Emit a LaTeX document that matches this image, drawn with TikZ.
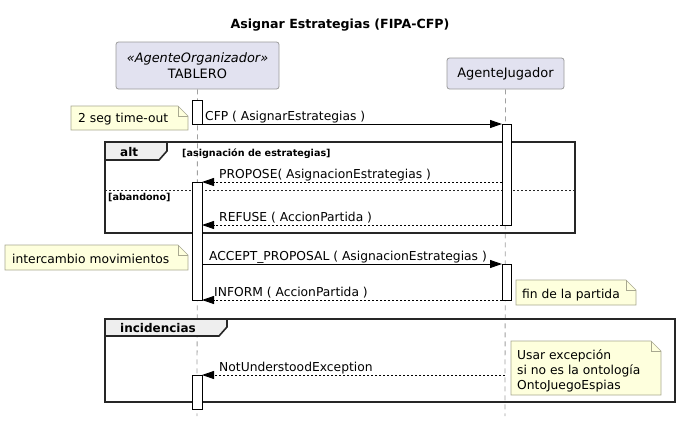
\documentclass[tikz,border=0pt]{standalone}
\usepackage{fontspec}
\setmainfont{DejaVu Sans}
\usetikzlibrary{arrows.meta}
\definecolor{partfill}{HTML}{E2E2F0}
\definecolor{partline}{HTML}{9A9A9A}
\definecolor{notefill}{HTML}{FEFFDD}
\definecolor{noteline}{HTML}{A8A890}
\definecolor{tabfill}{HTML}{EEEEEE}
\definecolor{lifegray}{HTML}{A0A0A0}

\begin{document}
\begin{tikzpicture}[x=1pt, y=-1pt,
    part/.style={draw=partline, fill=partfill, rounded corners=2.5pt, line width=0.8pt, inner sep=0pt},
    lifeline/.style={draw=lifegray, line width=0.8pt, dash pattern=on 5pt off 4pt},
    act/.style={draw, fill=white, line width=0.9pt},
    msg/.style={line width=0.9pt, -{Triangle[length=12pt,width=8pt]}},
    reply/.style={msg, dash pattern=on 2pt off 2pt},
    lbl/.style={anchor=base west, inner sep=0pt, font=\fontsize{12.3}{15}\selectfont},
    guard/.style={anchor=base west, inner sep=0pt, font=\fontsize{9.6}{11}\selectfont\bfseries},
    framebox/.style={draw=black!85, line width=1.6pt},
    tab/.style={draw=black!85, fill=tabfill, line width=1.6pt},
    note/.style={draw=noteline, fill=notefill, line width=0.7pt}]
    \useasboundingbox (0,0) rectangle (680,424);

    % title
    \node[anchor=base, inner sep=0pt, font=\fontsize{12.6}{15}\selectfont\bfseries] (title) at (340,28)
      {Asignar Estrategias (FIPA-CFP)};

    % participants
    \node[part, minimum width=163pt, minimum height=47pt, align=center,
      font=\fontsize{12.9}{16}\selectfont] (tablero) at (197.5,65.5)
      {\textit{«AgenteOrganizador»}\\TABLERO};
    \node[part, minimum width=117pt, minimum height=31pt,
      font=\fontsize{13}{16}\selectfont] (jugador) at (505.5,73.5) {AgenteJugador};

    % lifelines
    \coordinate (tableroEnd) at (197,416);
    \coordinate (jugadorEnd) at (505,416);
    \draw[lifeline] (tablero.south) -- (tableroEnd);
    \draw[lifeline] (jugador.south) -- (jugadorEnd);

    % alt frame
    \draw[framebox] (105,142) rectangle (575,233);
    \draw[tab] (105,142) -- (167,142) -- (167,151) -- (159,160) -- (105,160) -- cycle;
    \node[anchor=base west, inner sep=0pt, font=\fontsize{12}{14}\selectfont\bfseries] (alt) at (120,156) {alt};
    \node[guard] (guardA) at (182,156) {[asignación de estrategias]};
    \draw[black!85, line width=0.7pt, dash pattern=on 2pt off 2pt] (105,190) -- (575,190);
    \node[guard] (guardB) at (108,200) {[abandono]};

    % incidencias frame
    \draw[framebox] (105,319) rectangle (675,402);
    \draw[tab] (105,319) -- (227,319) -- (227,327) -- (219,336) -- (105,336) -- cycle;
    \node[anchor=base west, inner sep=0pt, font=\fontsize{12}{14}\selectfont\bfseries] (inc) at (120,332) {incidencias};

    % activations
    \draw[act] (192,100) rectangle (202,124);
    \draw[act] (192,182) rectangle (202,300);
    \draw[act] (192,375) rectangle (202,409);
    \draw[act] (502,124) rectangle (511,225);
    \draw[act] (502,264) rectangle (511,300);

    % notes
    \foreach \xa/\ya/\xb/\yb in {71/106/188/130, 5/245/188/270, 516/280/636/305, 511/341/661/395} {
      \draw[note] (\xa,\ya) -- (\xb-10,\ya) -- (\xb,\ya+10) -- (\xb,\yb) -- (\xa,\yb) -- cycle;
      \draw[note, fill=none] (\xb-10,\ya) -- (\xb-10,\ya+10) -- (\xb,\ya+10);
    }
    \node[lbl] (timeout) at (78,122) {2 seg time-out};
    \node[lbl] (intercambio) at (12,263) {intercambio movimientos};
    \node[lbl] (fin) at (522,298) {fin de la partida};
    \node[lbl, anchor=north west, align=left] (ontologia) at (517,349)
      {Usar excepción\\si no es la ontología\\OntoJuegoEspias};

    % messages
    \coordinate (cfpT) at (202,124);
    \coordinate (cfpJ) at (502,124);
    \draw[msg] (cfpT) -- (cfpJ);
    \node[lbl] (cfp) at (205,120) {CFP ( AsignarEstrategias )};

    \coordinate (proposeJ) at (502,182);
    \coordinate (proposeT) at (202,182);
    \draw[reply] (proposeJ) -- (proposeT);
    \node[lbl] (propose) at (219,178) {PROPOSE( AsignacionEstrategias )};

    \coordinate (refuseJ) at (502,225);
    \coordinate (refuseT) at (202,225);
    \draw[reply] (refuseJ) -- (refuseT);
    \node[lbl] (refuse) at (219,221) {REFUSE ( AccionPartida )};

    \coordinate (acceptT) at (202,264);
    \coordinate (acceptJ) at (502,264);
    \draw[msg] (acceptT) -- (acceptJ);
    \node[lbl] (accept) at (209,260) {ACCEPT\_PROPOSAL ( AsignacionEstrategias )};

    \coordinate (informJ) at (502,300);
    \coordinate (informT) at (202,300);
    \draw[reply] (informJ) -- (informT);
    \node[lbl] (inform) at (214,296) {INFORM ( AccionPartida )};

    \coordinate (notJ) at (505,375);
    \coordinate (notT) at (202,375);
    \draw[reply] (notJ) -- (notT);
    \node[lbl] (notunderstood) at (219,371) {NotUnderstoodException};
\end{tikzpicture}
\end{document}
